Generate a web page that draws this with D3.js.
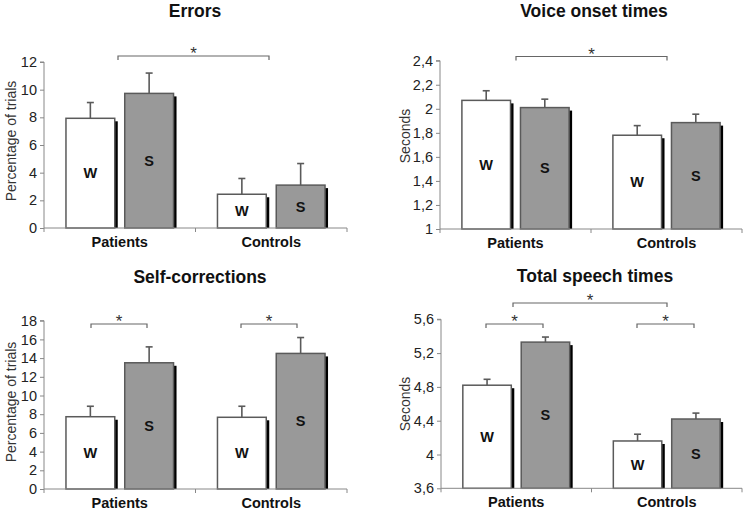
<!DOCTYPE html>
<html><head><meta charset="utf-8">
<script src="https://cdn.jsdelivr.net/npm/d3@7"></script>
<style>body{margin:0;background:#fff}svg{display:block}text{font-family:Arial,"Liberation Sans",sans-serif}</style>
</head><body><svg id="c" width="745" height="512"></svg>
<script>
const categories = ["Patients", "Controls"];
const series = ["W", "S"];
// [group][series] means and upper error values
const errorsMean = [[7.93, 9.73], [2.44, 3.1]];
const errorsErr = [[9.07, 11.2], [3.58, 4.66]];
const errorsTicks = [0, 2, 4, 6, 8, 10, 12];
const votMean = [[2.07, 2.01], [1.78, 1.885]];
const votErr = [[2.15, 2.08], [1.86, 1.955]];
const votTicks = [1, 1.2, 1.4, 1.6, 1.8, 2, 2.2, 2.4];
const scMean = [[7.73, 13.5], [7.67, 14.5]];
const scErr = [[8.85, 15.2], [8.85, 16.2]];
const scTicks = [0, 2, 4, 6, 8, 10, 12, 14, 16, 18];
const tstMean = [[4.82, 5.33], [4.16, 4.42]];
const tstErr = [[4.89, 5.39], [4.24, 4.49]];
const tstTicks = [3.6, 4, 4.4, 4.8, 5.2, 5.6];
const titles = ["Errors", "Voice onset times", "Self-corrections", "Total speech times"];
const yTitles = ["Percentage of trials", "Seconds", "Percentage of trials", "Seconds"];

const svg = d3.select("#c");
const fmt = d => String(+d.toFixed(1)).replace(".", ",");

function panel(o) {
  const g = svg.append("g");
  const y = d3.scaleLinear().domain(o.domain).range([o.y0, o.y1]);
  const x0 = d3.scaleBand().domain(categories).range([o.xa, o.xb]);
  const bw = x0.bandwidth();
  const x1 = d3.scaleBand().domain(series).range([bw * 0.145, bw * 0.855]).paddingInner(0.17);
  const gray = "#5a5a5a";

  g.append("text").attr("x", o.tx).attr("y", o.ty).attr("text-anchor", "middle")
    .attr("font-size", 17.5).attr("font-weight", "bold").attr("fill", "#111").text(o.title);
  g.append("text").attr("transform", `translate(${o.ytx},${o.yty}) rotate(-90)`)
    .attr("text-anchor", "middle").attr("font-size", 14).attr("fill", "#333").text(o.ytitle);

  categories.forEach((c, gi) => {
    series.forEach((s, si) => {
      const bx = x0(c) + x1(s), w = x1.bandwidth();
      const v = o.mean[gi][si], e = o.err[gi][si];
      const top = y(v);
      g.append("rect").attr("x", bx + 3).attr("y", top + 3).attr("width", w).attr("height", o.y0 - top - 3).attr("fill", "#000");
      g.append("rect").attr("x", bx).attr("y", top).attr("width", w).attr("height", o.y0 - top)
        .attr("fill", si === 0 ? "#fff" : "#999").attr("stroke", gray).attr("stroke-width", 1.5);
      const cx = bx + w / 2;
      g.append("line").attr("x1", cx).attr("x2", cx).attr("y1", top).attr("y2", y(e)).attr("stroke", gray).attr("stroke-width", 1.6);
      g.append("line").attr("x1", cx - 3.5).attr("x2", cx + 3.5).attr("y1", y(e)).attr("y2", y(e)).attr("stroke", gray).attr("stroke-width", 1.6);
      g.append("text").attr("x", cx).attr("y", (top + o.y0) / 2).attr("dy", "0.35em").attr("text-anchor", "middle")
        .attr("font-size", 14.5).attr("font-weight", "bold").attr("fill", "#111").text(s);
    });
  });

  const ya = d3.axisLeft(y).tickValues(o.ticks).tickFormat(fmt).tickSize(4).tickPadding(3);
  const yg = g.append("g").attr("transform", `translate(${o.xa},0)`).call(ya);
  yg.select(".domain").attr("stroke", "#888").attr("d", `M-4,${o.y1}H0V${o.y0}`);
  yg.selectAll(".tick line").attr("stroke", "#888");
  yg.selectAll(".tick text").attr("font-size", 14.5).attr("fill", "#222");

  const xg = g.append("g");
  xg.append("line").attr("x1", o.xa).attr("x2", o.xb).attr("y1", o.y0).attr("y2", o.y0).attr("stroke", "#888");
  [o.xa, x0(categories[1]), o.xb].forEach(t => xg.append("line").attr("x1", t).attr("x2", t).attr("y1", o.y0).attr("y2", o.y0 + 4).attr("stroke", "#888"));
  categories.forEach(c => g.append("text").attr("x", x0(c) + bw / 2).attr("y", o.y0 + 19)
    .attr("text-anchor", "middle").attr("font-size", 14.5).attr("font-weight", "bold").attr("fill", "#111").text(c));

  o.brackets.forEach(b => {
    const xl = b[0], xr = b[1], by = b[2];
    g.append("path").attr("d", `M${xl},${by + 4}V${by}H${xr}V${by + 4}`).attr("fill", "none").attr("stroke", "#666").attr("stroke-width", 1.2);
    g.append("text").attr("x", (xl + xr) / 2).attr("y", by + 3).attr("text-anchor", "middle").attr("font-size", 17).attr("fill", "#333").text("*");
  });
}

panel({title: titles[0], ytitle: yTitles[0], mean: errorsMean, err: errorsErr, ticks: errorsTicks, domain: [0, 12],
  xa: 44, xb: 347, y0: 228, y1: 62, tx: 195, ty: 17, ytx: 16, yty: 141,
  brackets: [[118, 269, 56]]});
panel({title: titles[1], ytitle: yTitles[1], mean: votMean, err: votErr, ticks: votTicks, domain: [1, 2.4],
  xa: 440, xb: 742, y0: 229, y1: 60.7, tx: 594, ty: 17, ytx: 410, yty: 136,
  brackets: [[516, 667, 56.5]]});
panel({title: titles[2], ytitle: yTitles[2], mean: scMean, err: scErr, ticks: scTicks, domain: [0, 18],
  xa: 44, xb: 347, y0: 489, y1: 320.7, tx: 200, ty: 283, ytx: 16, yty: 402,
  brackets: [[91, 147, 324], [241, 297, 324]]});
panel({title: titles[3], ytitle: yTitles[3], mean: tstMean, err: tstErr, ticks: tstTicks, domain: [3.6, 5.6],
  xa: 441, xb: 742, y0: 488.3, y1: 319.3, tx: 595, ty: 282, ytx: 410, yty: 404,
  brackets: [[513, 667, 303], [486, 543, 324], [637, 694, 324]]});
</script></body></html>
